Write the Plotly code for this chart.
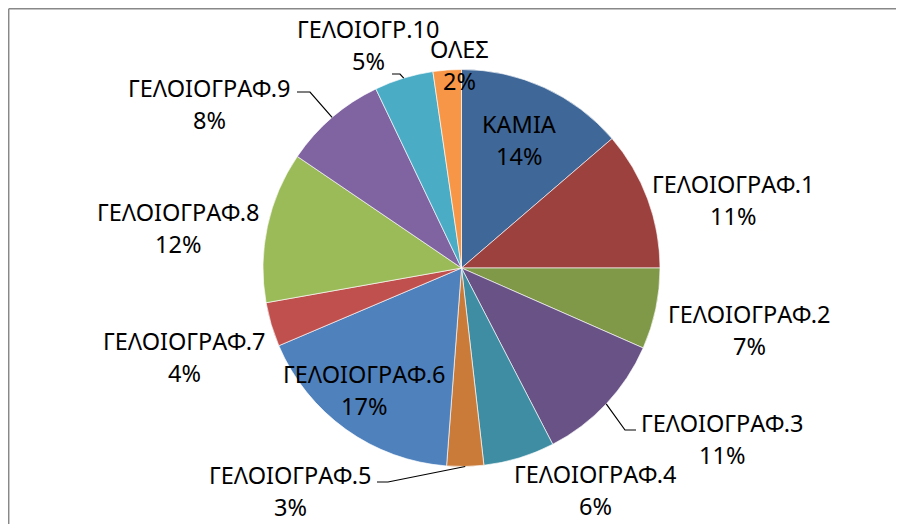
import plotly.graph_objects as go
import math

# ---------------- data ----------------
categories = ["ΚΑΜΙΑ", "ΓΕΛΟΙΟΓΡΑΦ.1", "ΓΕΛΟΙΟΓΡΑΦ.2", "ΓΕΛΟΙΟΓΡΑΦ.3",
              "ΓΕΛΟΙΟΓΡΑΦ.4", "ΓΕΛΟΙΟΓΡΑΦ.5", "ΓΕΛΟΙΟΓΡΑΦ.6", "ΓΕΛΟΙΟΓΡΑΦ.7",
              "ΓΕΛΟΙΟΓΡΑΦ.8", "ΓΕΛΟΙΟΓΡΑΦ.9", "ΓΕΛΟΙΟΓΡ.10", "ΟΛΕΣ"]
values = [13.7, 11.3, 6.6, 10.8, 5.8, 3.0, 17.4, 3.6, 12.3, 8.4, 4.8, 2.3]

# ---------------- style ----------------
colors = ["#3F6797", "#9D413F", "#7F9949", "#695285", "#3E8DA2", "#CA7B39",
          "#4F81BD", "#C0504D", "#9BBB59", "#8064A2", "#4BACC6", "#F79646"]

OFF = 8                      # page body margin in the browser
W, H = 904 - OFF, 524 - OFF  # figure size so it fits in the window
CX, CY, R = 461.5, 268.0, 198.5   # screen px
FONT = "Noto Sans"
FS = 23.5
LINE_GAP = 32  # px between the two label lines

# label centre positions (screen px) for each category
label_pos = [(519, 140), (733, 200), (749, 330), (722, 439), (595, 490),
             (290, 491), (364, 390), (184, 357), (178, 228), (209, 104),
             (368, 45), (459, 65)]
# leader lines: index -> [elbow, end] (screen px)
leaders = {3: [(625, 430), (636, 430)],
           5: [(388, 482), (377, 482)],
           9: [(310, 92), (297, 92)],
           10: [(400, 74), (392, 74)]}


def px(x, y):
    return (x - OFF) / W, 1 - (y - OFF) / H


fig = go.Figure(go.Pie(
    labels=categories, values=values, sort=False, direction="clockwise",
    rotation=0, textinfo="none", hoverinfo="label+percent",
    marker=dict(colors=colors, line=dict(color="rgba(255,255,255,0.8)", width=0.8)),
    domain=dict(x=[px(CX - R, 0)[0], px(CX + R, 0)[0]],
                y=[px(0, CY + R)[1], px(0, CY - R)[1]]),
    showlegend=False,
))

total = sum(values)
annotations = []
shapes = []
cum = 0.0
for i, (name, v) in enumerate(zip(categories, values)):
    mid = (cum + v / 2) / total * 2 * math.pi
    cum += v
    pct = round(v / total * 100)
    lx, ly = label_pos[i]
    for txt, yy in ((name, ly - LINE_GAP / 2), (f"{pct}%", ly + LINE_GAP / 2)):
        ax, ay = px(lx, yy)
        annotations.append(dict(x=ax, y=ay, xref="paper", yref="paper", text=txt,
                                showarrow=False, xanchor="center", yanchor="middle",
                                font=dict(family=FONT, size=FS, color="#000000")))
    if i in leaders:
        sx = CX + R * math.sin(mid)
        sy = CY - R * math.cos(mid)
        pts = [(sx, sy)] + leaders[i]
        path = "M " + " L ".join(f"{px(a, b)[0]},{px(a, b)[1]}" for a, b in pts)
        shapes.append(dict(type="path", xref="paper", yref="paper", path=path,
                           line=dict(color="#000000", width=1.2)))

# chart-area border (left and top edges visible)
bx, by = 0.7 / W, 1 - 0.7 / H
shapes.append(dict(type="line", xref="paper", yref="paper",
                   x0=bx, y0=by, x1=1.0, y1=by,
                   line=dict(color="#888888", width=1.5)))
shapes.append(dict(type="line", xref="paper", yref="paper",
                   x0=bx, y0=by, x1=bx, y1=0.0,
                   line=dict(color="#888888", width=1.5)))

fig.update_layout(
    width=W, height=H, margin=dict(l=0, r=0, t=0, b=0),
    paper_bgcolor="#FFFFFF", plot_bgcolor="#FFFFFF",
    annotations=annotations, shapes=shapes,
    font=dict(family=FONT),
)

fig.write_html("out.html")
